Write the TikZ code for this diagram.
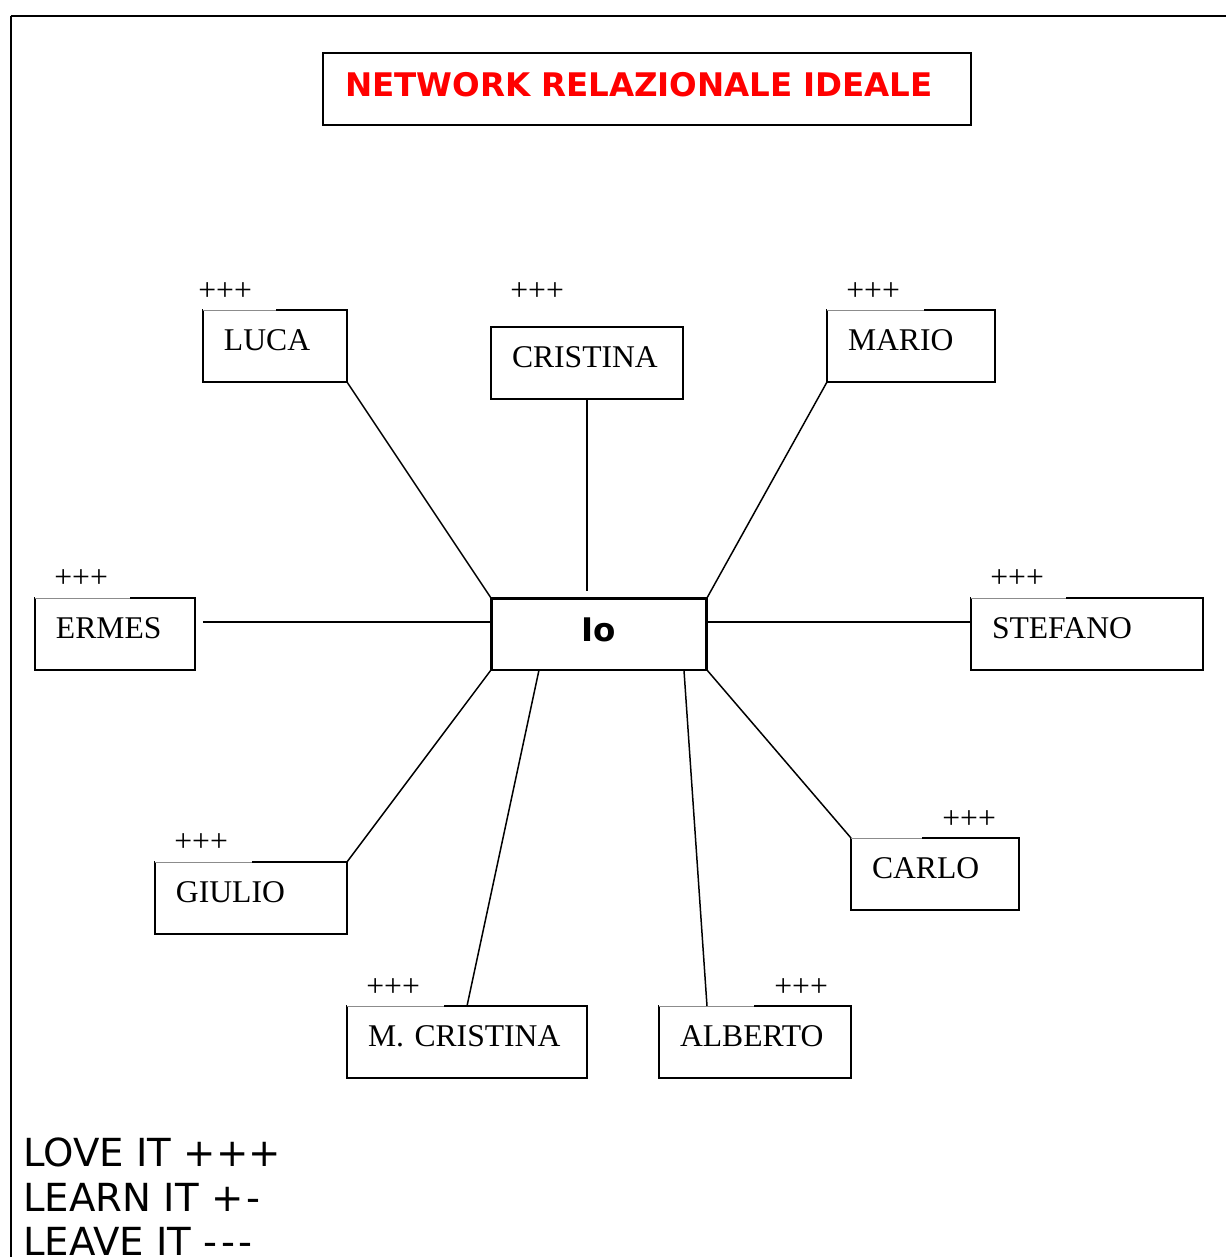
\documentclass[tikz,border=0pt]{standalone}
\usepackage{fontspec}
\setmainfont{Liberation Serif}
\newfontfamily\dvs{DejaVu Sans}
\usetikzlibrary{calc}
\begin{document}
\begin{tikzpicture}[x=0.02cm,y=-0.02cm,
  pbox/.style={draw, line width=0.85pt, anchor=north west, outer sep=0pt,
    inner xsep=0.42cm, inner ysep=0pt, align=left, minimum height=1.44cm,
    text height=0.45cm, text depth=0.27cm, font=\fontsize{18}{20}\selectfont},
  plus/.style={anchor=base west, inner sep=0pt, font=\fontsize{18}{20}\selectfont},
  link/.style={line width=0.85pt},
  thinedge/.style={line width=0.35pt, draw=black!45},
  legend/.style={anchor=base west, inner sep=0pt, font=\dvs\fontsize{22}{26}\selectfont},
  boldsans/.style={font=\dvs\bfseries\fontsize{18.5}{20}\selectfont},
]
\fill[white] (0,0) rectangle (1225,1257);
\useasboundingbox (0,0) rectangle (1225,1257);
% frame
\draw[line width=0.6pt] (11,1265) -- (11,16);
\draw[line width=1.1pt] (10.7,16) -- (1235,16);
% title
\node[draw, line width=0.85pt, anchor=north west, outer sep=0pt, inner xsep=0.44cm,
  inner ysep=0pt, text width=12.08cm, minimum height=1.44cm, text height=0.5cm,
  text depth=0.184cm, align=left, boldsans, text=red] (title) at (323,53)
  {NETWORK RELAZIONALE IDEALE};
% people
\node[pbox, text width=2.04cm] (luca) at (203,310) {LUCA};
\node[pbox, text width=3.0cm] (cristina) at (491,327) {CRISTINA};
\node[pbox, text width=2.52cm] (mario) at (827,310) {MARIO};
\node[pbox, text width=2.36cm] (ermes) at (35,598) {ERMES};
\node[pbox, text width=3.8cm] (stefano) at (971,598) {STEFANO};
\node[pbox, text width=3.0cm] (giulio) at (155,862) {GIULIO};
\node[pbox, text width=2.52cm] (carlo) at (851,838) {CARLO};
\node[pbox, text width=3.96cm] (mc) at (347,1006) {M. CRISTINA};
\node[pbox, text width=3.0cm] (alberto) at (659,1006) {ALBERTO};
% lighter top-edge segments
\foreach \n/\l in {luca/73,mario/97,ermes/95,stefano/95,giulio/97,carlo/71,mc/97,alberto/95}{
  \draw[white, line width=1.2pt] (\n.north west) -- ++(\l,0);
  \draw[thinedge] (\n.north west) -- ++(\l,0);
}
% plus labels
\node[plus] (p1) at (198,300) {+++};
\node[plus] (p2) at (510,300) {+++};
\node[plus] (p3) at (846,300) {+++};
\node[plus] (p4) at (54,587) {+++};
\node[plus] (p5) at (990,587) {+++};
\node[plus] (p6) at (174,851) {+++};
\node[plus] (p7) at (942,828) {+++};
\node[plus] (p8) at (366,996) {+++};
\node[plus] (p9) at (774,996) {+++};
% center
\node[draw, line width=1.7pt, anchor=north west, outer sep=0pt, minimum width=4.32cm,
  minimum height=1.44cm, inner sep=0pt, text height=0.5cm, text depth=0.184cm,
  boldsans] (io) at (491,598) {Io};
% connectors
\coordinate (cend) at ($(cristina.south |- io.north)+(0,-7)$);
\draw[link] (luca.south east) -- (io.north west);
\draw[link] (cristina.south) -- (cend);
\draw[link] (mario.south west) -- (io.north east);
\draw[link] ($(ermes.east)+(8,-12)$) -- ($(io.west)+(0,-12)$);
\draw[link] ($(io.east)+(0,-12)$) -- ($(stefano.west)+(0,-12)$);
\draw[link] (giulio.north east) -- (io.south west);
\draw[link] ($(mc.north west)+(120,0)$) -- ($(io.south west)+(48,0)$);
\draw[link] ($(alberto.north west)+(48,0)$) -- ($(io.south east)+(-23,0)$);
\draw[link] (carlo.north west) -- (io.south east);
% legend
\node[legend] (l1) at (23,1166) {LOVE IT +++};
\node[legend] (l2) at (23,1211) {LEARN IT +\kern1.5pt-};
\node[legend] (l3) at (23,1255) {LEAVE IT -\kern2pt-\kern2pt-};
\end{tikzpicture}
\end{document}
